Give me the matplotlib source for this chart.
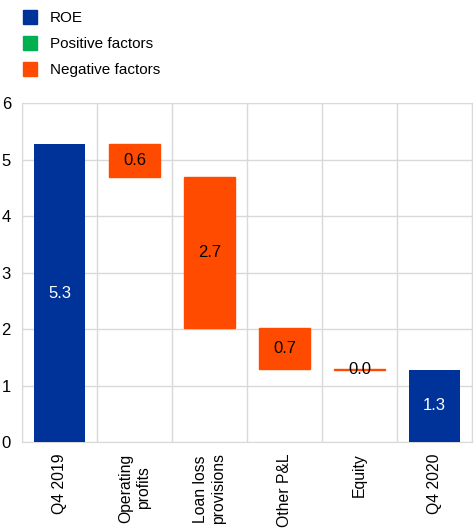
import matplotlib.pyplot as plt
from matplotlib.patches import Patch

plt.rcParams['font.family'] = ['Liberation Sans', 'DejaVu Sans']

categories = ['Q4 2019', 'Operating\nprofits', 'Loan loss\nprovisions', 'Other P&L', 'Equity', 'Q4 2020']
start_roe = 5.27
changes = [-0.58, -2.67, -0.73, -0.01]
end_roe = 1.28
labels = ['5.3', '0.6', '2.7', '0.7', '0.0', '1.3']

blue = '#003399'
green = '#00b050'
orange = '#ff4b00'

fig = plt.figure(figsize=(4.75, 5.29), dpi=100)
ax = fig.add_axes([0.0463, 0.1645, 0.9474, 0.6405])

x = list(range(len(categories)))
w = 0.67

# ROE bars
ax.bar(x[0], start_roe, width=w, color=blue, zorder=3)
ax.bar(x[-1], end_roe, width=w, color=blue, zorder=3)
ax.text(x[0], start_roe / 2, labels[0], ha='center', va='center', color='white', fontsize=12, zorder=4)
ax.text(x[-1], end_roe / 2, labels[-1], ha='center', va='center', color='white', fontsize=12, zorder=4)

level = start_roe
for i, c in enumerate(changes):
    xi = x[i + 1]
    col = green if c > 0 else orange
    bottom = level + min(c, 0)
    ax.bar(xi, abs(c), bottom=bottom, width=w, color=col, edgecolor=col, linewidth=1, zorder=3)
    ax.text(xi, bottom + abs(c) / 2, labels[i + 1], ha='center', va='center', color='black', fontsize=12, zorder=4)
    level += c

ax.set_xlim(-0.5, len(categories) - 0.5)
ax.set_ylim(0, 6)
ax.set_yticks(range(0, 7))
ax.set_xticks([i + 0.5 for i in range(-1, len(categories))], minor=False)
ax.set_xticklabels([])
ax.tick_params(axis='both', length=0)
ax.tick_params(axis='y', labelsize=12, pad=8)
for xi, cat in zip(x, categories):
    ax.text(xi, -0.2, cat, rotation=90, ha='center', va='top', fontsize=11.3,
            multialignment='center', transform=ax.transData)

ax.grid(True, color='#d9d9d9', linewidth=1, zorder=0)
for s in ax.spines.values():
    s.set_color('#d9d9d9')

handles = [Patch(color=blue, label='ROE'),
           Patch(color=green, label='Positive factors'),
           Patch(color=orange, label='Negative factors')]
fig.legend(handles=handles, loc='upper left', bbox_to_anchor=(0.019, 1.0076), frameon=False,
           fontsize=11, handlelength=0.95, handleheight=1.05, handletextpad=0.8, labelspacing=0.7)

fig.savefig('out.png', dpi=100)
